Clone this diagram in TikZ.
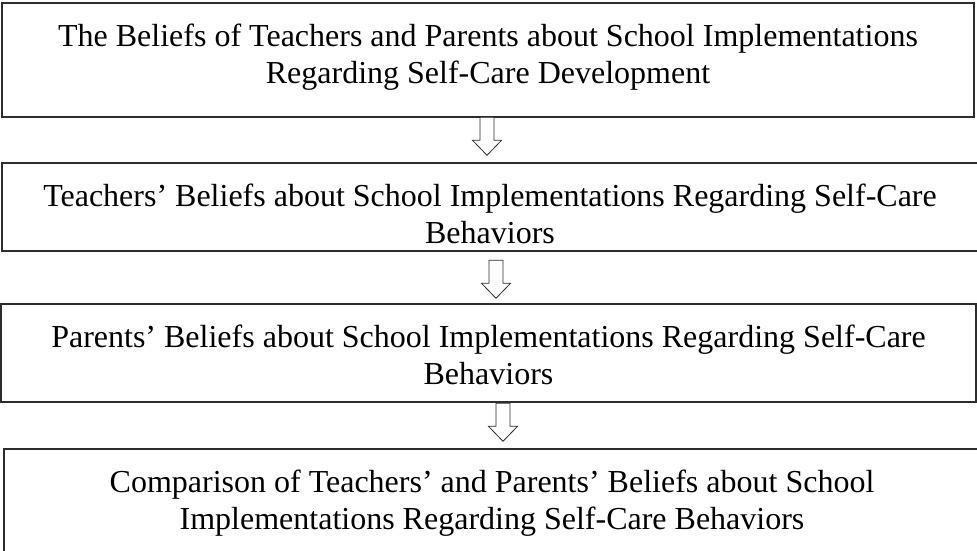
\documentclass[tikz,border=0pt]{standalone}
\usepackage{fontspec}
\setmainfont{Liberation Serif}
\usepackage{tikz}
\usetikzlibrary{positioning, calc}
\definecolor{boxline}{RGB}{45,45,45}
\tikzset{
  stage/.style={rectangle, draw=boxline, line width=1.4pt, inner sep=0pt},
  stagetext/.style={align=center, inner sep=0pt,
    font=\fontsize{32}{37}\selectfont},
  downarrow/.pic={
    \draw[boxline, line width=0.8pt, fill=white]
      (0,0) -- (14.5,15) -- (7,15) -- (7,38) -- (-7,38)
      -- (-7,15) -- (-14.5,15) -- cycle;
  }
}

\begin{document}
\begin{tikzpicture}[x=1pt, y=1pt]
  \clip (0,0) rectangle (977,-550);
  % the four stages
  \node[stage, minimum width=972pt, minimum height=114pt] (b1) at (488,-60) {};
  \node[stage, minimum width=988pt, minimum height=88pt] (b2) at (496,-207) {};
  \node[stage, minimum width=975pt, minimum height=98pt] (b3) at (488.5,-353) {};
  \node[stage, minimum width=996pt, minimum height=120pt] (b4) at (502,-509) {};
  \node[stagetext, below=21pt of b1.north] (t1)
    {The Beliefs of Teachers and Parents about School Implementations\\
     Regarding Self-Care Development};
  \node[stagetext, below=21pt of b2.north, xshift=-6pt] (t2)
    {Teachers' Beliefs about School Implementations Regarding Self-Care\\
     Behaviors};
  \node[stagetext, below=21pt of b3.north] (t3)
    {Parents' Beliefs about School Implementations Regarding Self-Care\\
     Behaviors};
  \node[stagetext, below=21pt of b4.north, xshift=-10pt] (t4)
    {Comparison of Teachers' and Parents' Beliefs about School\\
     Implementations Regarding Self-Care Behaviors};
  % hollow arrows between the stages
  \coordinate (tip1) at ($(b2.north)+(-9,7)$);
  \coordinate (tip2) at ($(b3.north)+(7.5,5)$);
  \coordinate (tip3) at ($(b4.north)+(1,7)$);
  \pic at (tip1) {downarrow};
  \pic at (tip2) {downarrow};
  \pic at (tip3) {downarrow};
\end{tikzpicture}
\end{document}
